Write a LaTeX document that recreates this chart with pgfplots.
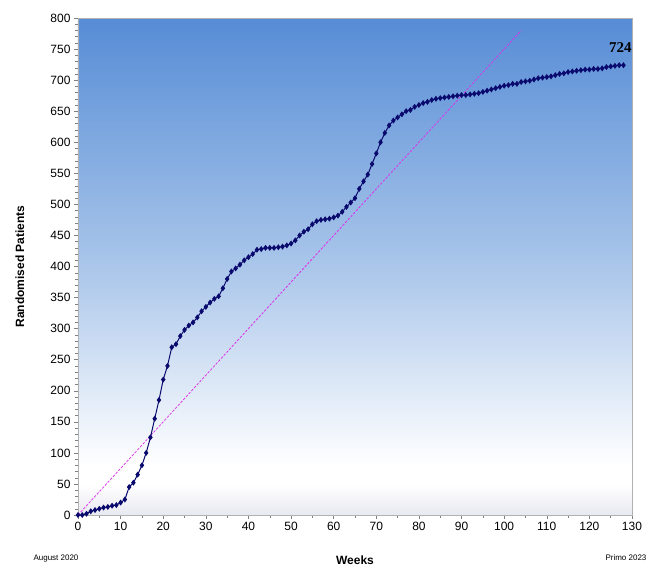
\documentclass[border=0pt]{standalone}
\usepackage{pgfplots}
\pgfplotsset{compat=1.18}
\usepackage{fontspec}
\setmainfont{Liberation Sans}
\newfontfamily\serifnum{Liberation Serif}

\definecolor{bgtop}{RGB}{86,140,214}
\definecolor{bgmid}{RGB}{170,198,234}
\definecolor{bglow}{RGB}{232,232,240}
\definecolor{navyline}{RGB}{10,10,110}
\definecolor{trend}{RGB}{220,50,235}

% TikZ maps the path onto 25bp..75bp of the shading
\pgfdeclareverticalshading{plotbg}{100bp}{
  color(0bp)=(bglow); color(25bp)=(bglow); color(28bp)=(white);
  color(30bp)=(white); color(50bp)=(bgmid); color(75bp)=(bgtop); color(100bp)=(bgtop)}

\begin{document}
\begin{tikzpicture}
\useasboundingbox (-78pt,-51pt) rectangle (573pt,515pt);
\begin{axis}[
  at={(0,0)}, anchor=south west,
  scale only axis,
  width=554pt, height=497pt,
  xmin=0, xmax=130, ymin=0, ymax=800,
  xtick distance=10, ytick distance=50,
  minor x tick num=1, minor y tick num=4,
  xtick pos=bottom, ytick pos=left,
  tick align=outside,
  major tick length=4pt, minor tick length=2.5pt,
  every tick/.style={gray},
  axis line style={gray!60},
  axis background/.style={shade, shading=plotbg},
  tick label style={font=\fontsize{12}{14}\selectfont},
  /pgf/number format/assume math mode=true,
  ylabel={\bfseries Randomised Patients},
  ylabel style={font=\fontsize{12}{14}\selectfont, at={(axis description cs:-0.105,0.5)}, anchor=center},
  clip=false,
]
\addplot[trend, line width=0.8pt, dash pattern=on 2.5pt off 1.5pt] coordinates {(0,0) (104,780)};
\addplot[navyline, line width=1pt, mark=diamond*, mark size=2.2pt] coordinates {
(0,0) (1,0) (2,2) (3,6) (4,8) (5,10) (6,12) (7,13) (8,15) (9,16)
(10,20) (11,25) (12,45) (13,52) (14,65) (15,80) (16,100) (17,125) (18,155) (19,185)
(20,218) (21,240) (22,270) (23,275) (24,288) (25,298) (26,305) (27,310) (28,318) (29,328)
(30,335) (31,342) (32,348) (33,352) (34,365) (35,380) (36,392) (37,397) (38,403) (39,410)
(40,415) (41,420) (42,427) (43,428) (44,430) (45,430) (46,430) (47,431) (48,432) (49,434)
(50,437) (51,442) (52,450) (53,456) (54,460) (55,468) (56,473) (57,475) (58,476) (59,477)
(60,479) (61,482) (62,488) (63,496) (64,503) (65,510) (66,525) (67,537) (68,548) (69,565)
(70,582) (71,600) (72,615) (73,627) (74,635) (75,640) (76,645) (77,650) (78,652) (79,657)
(80,660) (81,663) (82,665) (83,668) (84,670) (85,671) (86,672) (87,673) (88,674) (89,675)
(90,676) (91,676) (92,677) (93,678) (94,679) (95,681) (96,683) (97,685) (98,687) (99,689)
(100,691) (101,692) (102,694) (103,694) (104,697) (105,698) (106,699) (107,701) (108,703) (109,704)
(110,705) (111,706) (112,708) (113,710) (114,711) (115,713) (116,714) (117,715) (118,716) (119,717)
(120,717) (121,718) (122,718) (123,719) (124,721) (125,722) (126,723) (127,724) (128,724)
};
\node[font=\serifnum\bfseries\fontsize{15}{17}\selectfont] at (axis cs:127.3,752) {724};
\node[font=\bfseries\fontsize{12}{14}\selectfont, anchor=base] at (rel axis cs:0.5,0) [yshift=-49pt] {Weeks};
\node[font=\fontsize{8}{10}\selectfont, anchor=base] at (rel axis cs:0,0) [xshift=-22pt, yshift=-45pt] {August 2020};
\node[font=\fontsize{8}{10}\selectfont, anchor=base] at (rel axis cs:1,0) [xshift=-6pt, yshift=-45pt] {Primo 2023};
\end{axis}
\end{tikzpicture}
\end{document}
